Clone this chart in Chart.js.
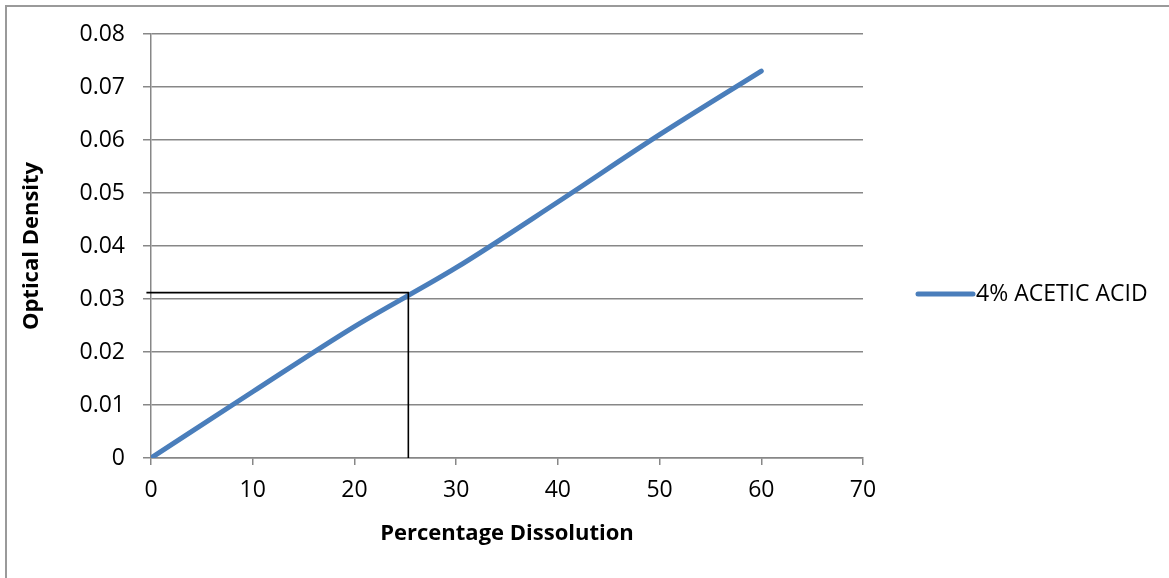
<!DOCTYPE html>
<html>
<head>
<meta charset="utf-8">
<title>Optical Density vs Percentage Dissolution</title>
<script src="https://cdn.jsdelivr.net/npm/chart.js@4/dist/chart.umd.min.js"></script>
<style>
  html, body { margin: 0; padding: 0; background: #ffffff; }
  #wrap { position: relative; width: 1169px; height: 578px; overflow: hidden; }
  #frame { position: absolute; left: 5px; top: 5px; width: 1200px; height: 620px;
           border: 2px solid #9a9a9a; box-sizing: border-box; pointer-events: none; }
  #chart { position: absolute; left: 0; top: 0; }
</style>
</head>
<body>
<div id="wrap">
  <div id="frame"></div>
  <canvas id="chart" width="1169" height="578"></canvas>
</div>
<script>
// Calibration data: percentage dissolution against optical density
const dissolution = [0, 10, 20, 30, 40, 50, 60];
const opticalDensity = [0, 0.0125, 0.0248, 0.0359, 0.0483, 0.061, 0.073];
const seriesLabel = '4% ACETIC ACID';

// Reading taken from the curve: dissolution for the measured density
const readX = [-0.45, 25.3, 25.3];
const readY = [0.0312, 0.0312, 0];

const xTicks = [0, 10, 20, 30, 40, 50, 60, 70];
const yTicks = [0, 0.01, 0.02, 0.03, 0.04, 0.05, 0.06, 0.07, 0.08];

const FONT = '"Open Sans", "Liberation Sans", sans-serif';
const GRID = '#878787';
const LINE = '#4a7ebb';

// Legend drawn to the right of the plot: a line sample followed by the label
const sideLegend = {
  id: 'sideLegend',
  afterDraw(chart) {
    const { ctx, chartArea } = chart;
    const ds = chart.data.datasets[0];
    const y = (chartArea.top + chartArea.bottom) / 2 + 48;
    const x0 = chartArea.right + 55;
    ctx.save();
    ctx.strokeStyle = ds.borderColor;
    ctx.lineWidth = 5;
    ctx.lineCap = 'round';
    ctx.beginPath();
    ctx.moveTo(x0, y);
    ctx.lineTo(x0 + 55, y);
    ctx.stroke();
    ctx.fillStyle = '#000000';
    ctx.font = '23px ' + FONT;
    ctx.textBaseline = 'middle';
    ctx.textAlign = 'left';
    ctx.fillText(ds.label, x0 + 58, y);
    ctx.restore();
  }
};

new Chart(document.getElementById('chart'), {
  type: 'line',
  data: {
    datasets: [
      {
        label: seriesLabel,
        data: dissolution.map((x, i) => ({ x, y: opticalDensity[i] })),
        borderColor: LINE,
        backgroundColor: LINE,
        borderWidth: 5,
        borderCapStyle: 'round',
        borderJoinStyle: 'round',
        cubicInterpolationMode: 'monotone',
        pointRadius: 0,
        fill: false,
        order: 2
      },
      {
        label: 'reading',
        data: readX.map((x, i) => ({ x, y: readY[i] })),
        borderColor: '#000000',
        borderWidth: 1.6,
        tension: 0,
        pointRadius: 0,
        fill: false,
        clip: false,
        order: 1
      }
    ]
  },
  options: {
    responsive: false,
    animation: false,
    devicePixelRatio: 1,
    layout: { padding: { top: 34, right: 306, left: 0, bottom: 0 } },
    plugins: {
      legend: { display: false },
      tooltip: { enabled: false }
    },
    scales: {
      x: {
        type: 'linear',
        min: 0,
        max: 70,
        afterBuildTicks(scale) { scale.ticks = xTicks.map(v => ({ value: v })); },
        afterFit(scale) { scale.height = 120; },
        ticks: {
          color: '#000000',
          font: { family: FONT, size: 23 },
          padding: 12,
          maxRotation: 0,
          callback: v => String(v)
        },
        grid: {
          drawOnChartArea: false,
          drawTicks: true,
          tickLength: 7,
          color: GRID,
          lineWidth: 1.5
        },
        border: { color: GRID, width: 1.5 },
        title: {
          display: true,
          text: 'Percentage Dissolution',
          color: '#000000',
          font: { family: FONT, size: 22, weight: 'bold' },
          padding: { top: 0, bottom: 31 }
        }
      },
      y: {
        type: 'linear',
        min: 0,
        max: 0.08,
        afterBuildTicks(scale) { scale.ticks = yTicks.map(v => ({ value: v })); },
        afterFit(scale) { scale.width = 151; },
        ticks: {
          color: '#000000',
          font: { family: FONT, size: 23 },
          padding: 18,
          callback: v => (v === 0 ? '0' : v.toFixed(2))
        },
        grid: {
          drawTicks: true,
          tickLength: 8,
          color: GRID,
          lineWidth: 1.5
        },
        border: { color: GRID, width: 1.5 },
        title: {
          display: true,
          text: 'Optical Density',
          color: '#000000',
          font: { family: FONT, size: 22, weight: 'bold' },
          padding: { top: 19, bottom: 0 }
        }
      }
    }
  },
  plugins: [sideLegend]
});
</script>
</body>
</html>
